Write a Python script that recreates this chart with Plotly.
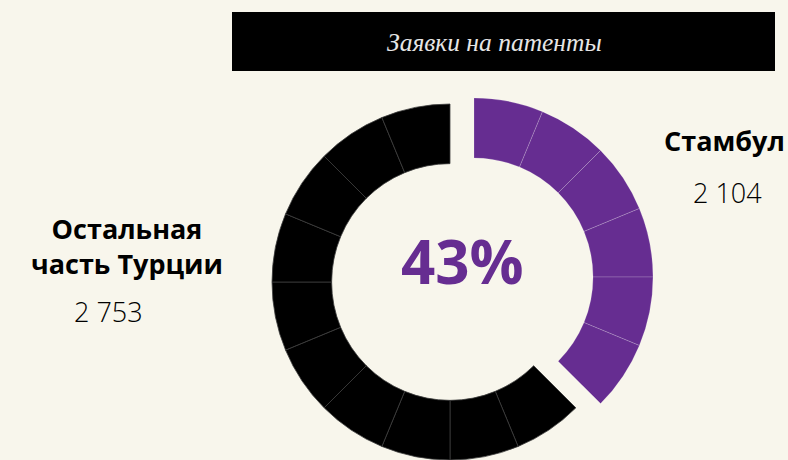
import plotly.graph_objects as go

# ---- data ----
categories = ["Стамбул", "Остальная часть Турции"]
applications = [2104, 2753]
segment_counts = [6, 10]          # stylised ring segments
title_text = "Заявки на патенты"

share_pct = round(applications[0] / sum(applications) * 100)

# ---- style ----
W, H = 788, 460
BG = "#F8F6EC"
PURPLE = "#662D91"
BLACK = "#000000"
CLEAR = "rgba(0,0,0,0)"

seg_values = [1] * sum(segment_counts)
n_ist, n_rest = segment_counts


def px_domain(cx, cy, r):
    return dict(x=[(cx - r) / W, (cx + r) / W],
                y=[max(0, (H - (cy + r)) / H), min(1, (H - (cy - r)) / H)])


fig = go.Figure()

# rest of Turkey ring (black)
fig.add_trace(go.Pie(
    values=seg_values, sort=False, direction="clockwise", rotation=0,
    hole=0.665, textinfo="none", hoverinfo="skip", showlegend=False,
    marker=dict(colors=[CLEAR] * n_ist + [BLACK] * n_rest,
                line=dict(color=[CLEAR] * n_ist + ["#3c3c3c"] * n_rest, width=0.8)),
    domain=px_domain(450, 283, 179),
))

# Istanbul ring (purple, exploded)
fig.add_trace(go.Pie(
    values=seg_values, sort=False, direction="clockwise", rotation=0,
    hole=0.665, textinfo="none", hoverinfo="skip", showlegend=False,
    marker=dict(colors=[PURPLE] * n_ist + [CLEAR] * n_rest,
                line=dict(color=["rgba(255,255,255,0.22)"] * n_ist + [CLEAR] * n_rest, width=0.8)),
    domain=px_domain(474, 277, 179),
))

# title bar
fig.add_shape(type="rect", xref="paper", yref="paper",
              x0=232 / W, x1=775 / W, y0=1 - 71 / H, y1=1 - 12 / H,
              fillcolor=BLACK, line=dict(width=0), layer="below")


def ann(text, x, y, size, color=BLACK, family="Open Sans", weight=None, style=None):
    f = dict(family=family, size=size, color=color)
    if weight is not None:
        f["weight"] = weight
    if style is not None:
        f["style"] = style
    fig.add_annotation(text=text, x=x / W, y=1 - y / H, xref="paper", yref="paper",
                       showarrow=False, xanchor="center", yanchor="middle", font=f)


ann(title_text, 494, 42, 25.5, color="#E6E6E6", family="Liberation Serif", style="italic")
ann(categories[0], 724, 140, 27, weight=700)
ann(f"{applications[0]:,}".replace(",", " "), 727, 192, 27, weight=300)
ann("Остальная<br>часть Турции", 127, 246, 27, weight=700)
ann(f"{applications[1]:,}".replace(",", " "), 108, 311, 27, weight=300)
ann(f"{share_pct}%", 462, 261, 60, color=PURPLE, weight=700)

fig.update_layout(
    width=W, height=H,
    margin=dict(l=0, r=0, t=0, b=0),
    paper_bgcolor=BG, plot_bgcolor=BG,
)

fig.write_html(
    "out.html",
    config={"displayModeBar": False},
    post_script="document.body.style.margin='0';document.body.style.overflow='hidden';"
                "document.documentElement.style.overflow='hidden';",
)
